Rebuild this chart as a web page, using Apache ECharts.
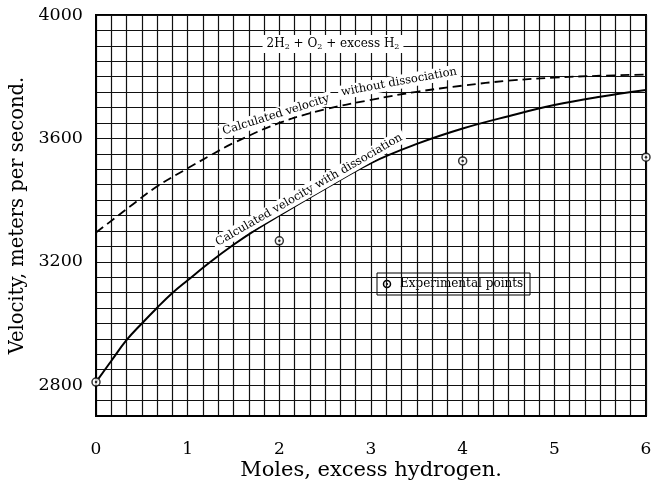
<!DOCTYPE html>
<html>
<head>
<meta charset="utf-8">
<script src="https://cdn.jsdelivr.net/npm/echarts@6/dist/echarts.min.js"></script>
<style>
html,body{margin:0;padding:0;background:#fff;}
#chart{width:655px;height:481px;}
</style>
</head>
<body>
<div id="chart"></div>
<script>
// ---- data ----
const withDissociation = [
  [0, 2810], [0.17, 2880], [0.33, 2945], [0.5, 3000], [0.67, 3052], [0.83, 3098],
  [1, 3140], [1.25, 3200], [1.5, 3255], [1.75, 3305], [2, 3350], [2.5, 3437],
  [3, 3520], [3.5, 3582], [4, 3632], [4.5, 3672], [5, 3708], [5.5, 3735], [6, 3757]
];
const withoutDissociation = [
  [0, 3295], [0.2, 3340], [0.37, 3379], [0.66, 3443], [1, 3503], [1.25, 3545],
  [1.5, 3585], [2, 3650], [2.5, 3694], [3, 3725], [3.5, 3751], [4, 3771],
  [4.5, 3787], [5, 3797], [5.5, 3803], [6, 3807]
];
const experimental = [[0, 2810], [2, 3268], [4, 3527], [6, 3539]];
const yTickLabels = [2800, 3200, 3600, 4000];
const xTickLabels = [0, 1, 2, 3, 4, 5, 6];

const FONT = 'DejaVu Serif';
const chart = echarts.init(document.getElementById('chart'), null, {renderer: 'canvas'});

const gridLine = {show: true, lineStyle: {color: '#111', width: 1.2}};

const option = {
  backgroundColor: '#fff',
  animation: false,
  grid: {left: 96, right: 9, top: 15, bottom: 65, show: true, borderColor: '#000', borderWidth: 2,
    backgroundColor: '#fff', containLabel: false, outerBoundsMode: 'none'},
  xAxis: {
    type: 'value', min: 0, max: 6, interval: 1,
    name: 'Moles, excess hydrogen.', nameLocation: 'middle', nameGap: 44, nameMoveOverlap: false,
    nameTextStyle: {fontFamily: FONT, fontSize: 21, color: '#000'},
    axisLine: {show: true, lineStyle: {color: '#000', width: 2}},
    axisTick: {show: false},
    minorTick: {show: false, splitNumber: 6},
    minorSplitLine: gridLine,
    axisLabel: {
      interval: 0, margin: 25, fontFamily: FONT, fontSize: 17, color: '#000',
      formatter: function (v) {
        const r = Math.round(v);
        return xTickLabels.indexOf(r) >= 0 ? String(r) : '';
      }
    },
    splitLine: gridLine
  },
  yAxis: {
    type: 'value', min: 2700, max: 4000, interval: 50,
    name: 'Velocity, meters per second.', nameLocation: 'middle', nameGap: 68, nameMoveOverlap: false,
    nameTextStyle: {fontFamily: FONT, fontSize: 19.5, color: '#000'},
    axisLine: {show: true, lineStyle: {color: '#000', width: 2}},
    axisTick: {show: false},
    axisLabel: {
      interval: 0, margin: 13, fontFamily: FONT, fontSize: 17.5, color: '#000',
      padding: [5, 0, 0, 0],
      formatter: function (v) {
        const r = Math.round(v);
        return yTickLabels.indexOf(r) >= 0 ? String(r) : '';
      }
    },
    splitLine: gridLine
  },
  series: [
    {
      name: 'Calculated velocity without dissociation', type: 'line', data: withoutDissociation,
      smooth: 0.4, showSymbol: false, lineStyle: {color: '#000', width: 1.8, type: [9, 5]}, z: 3
    },
    {
      name: 'Calculated velocity with dissociation', type: 'line', data: withDissociation,
      smooth: 0.4, showSymbol: false, lineStyle: {color: '#000', width: 2}, z: 3
    },
    {
      name: 'Experimental points', type: 'scatter', data: experimental, clip: false,
      symbol: 'circle', symbolSize: 8,
      itemStyle: {color: '#fff', borderColor: '#000', borderWidth: 1.5}, z: 4
    },
    {
      name: 'Experimental points dot', type: 'scatter', data: experimental, clip: false,
      symbol: 'circle', symbolSize: 2.5, itemStyle: {color: '#000'}, z: 5
    }
  ],
  graphic: [
    {
      type: 'text', x: 333, y: 44, z: 10,
      style: {
        text: '2H{s|2} + O{s|2} + excess H{s|2}',
        fontFamily: FONT, fontSize: 12, fill: '#000', align: 'center', verticalAlign: 'middle',
        backgroundColor: '#fff', padding: [2, 4],
        rich: {s: {fontFamily: FONT, fontSize: 8, verticalAlign: 'bottom', padding: [6, 0, 0, 0]}}
      }
    },
    {
      type: 'text', x: 276, y: 115, rotation: 17.5 * Math.PI / 180, z: 10,
      style: {text: 'Calculated velocity', fontFamily: FONT, fontSize: 11.5, fill: '#000',
        align: 'center', verticalAlign: 'middle', backgroundColor: '#fff', padding: [1, 3]}
    },
    {
      type: 'text', x: 399, y: 82, rotation: 10.4 * Math.PI / 180, z: 10,
      style: {text: 'without dissociation', fontFamily: FONT, fontSize: 11.5, fill: '#000',
        align: 'center', verticalAlign: 'middle', backgroundColor: '#fff', padding: [1, 3]}
    },
    {
      type: 'text', x: 309, y: 190, rotation: 30 * Math.PI / 180, z: 10,
      style: {text: 'Calculated velocity with dissociation', fontFamily: FONT, fontSize: 11.5, fill: '#000',
        align: 'center', verticalAlign: 'middle', backgroundColor: '#fff', padding: [1, 3]}
    },
    {
      type: 'group', z: 10,
      children: [
        {type: 'rect', shape: {x: 377, y: 273, width: 153, height: 22},
          style: {fill: '#fff', stroke: '#000', lineWidth: 1}},
        {type: 'circle', shape: {cx: 387, cy: 284, r: 3.5},
          style: {fill: '#fff', stroke: '#000', lineWidth: 1.5}},
        {type: 'circle', shape: {cx: 387, cy: 284, r: 1.1}, style: {fill: '#000'}},
        {type: 'text', x: 400, y: 284,
          style: {text: 'Experimental points', fontFamily: FONT, fontSize: 12, fill: '#000',
            align: 'left', verticalAlign: 'middle'}}
      ]
    }
  ]
};
chart.setOption(option);
</script>
</body>
</html>
